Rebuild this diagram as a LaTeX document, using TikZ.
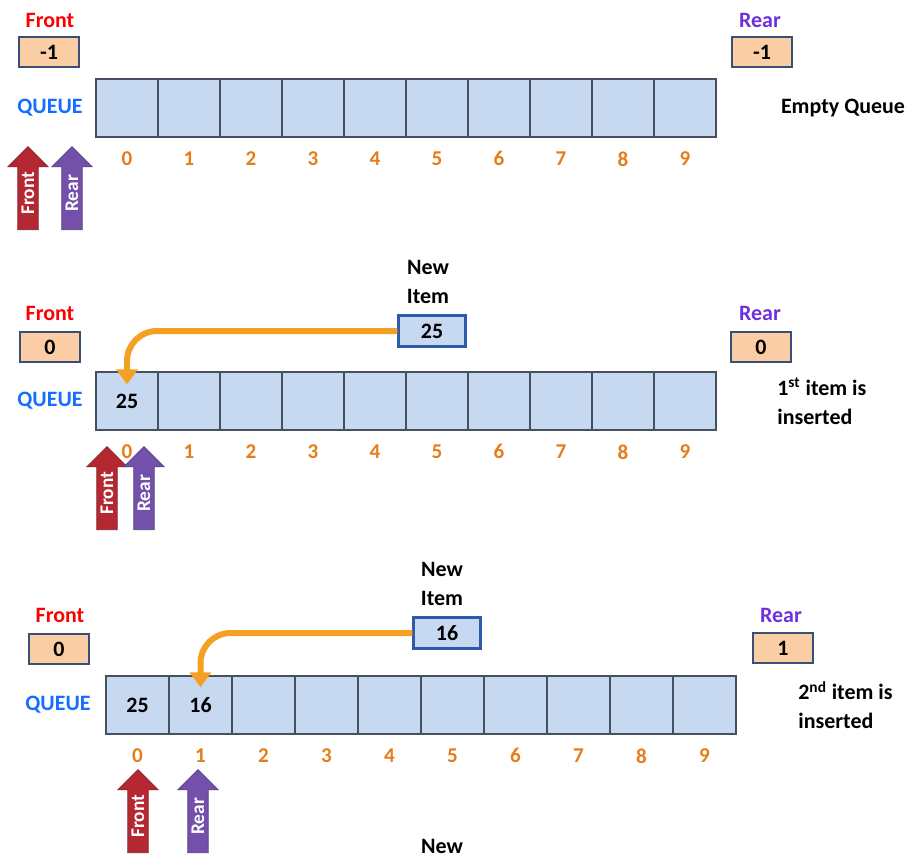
\documentclass[tikz,border=0pt]{standalone}
\usepackage{fontspec}
\setmainfont{Carlito}
\usetikzlibrary{shapes.arrows,arrows.meta}

\definecolor{cellblue}{RGB}{198,217,241}
\definecolor{cellline}{RGB}{70,80,95}
\definecolor{peach}{RGB}{250,205,165}
\definecolor{boxline}{RGB}{56,80,120}
\definecolor{newline}{RGB}{45,90,170}
\definecolor{frontred}{RGB}{255,0,0}
\definecolor{rearpurple}{RGB}{112,48,220}
\definecolor{queueblue}{RGB}{20,110,255}
\definecolor{idxorange}{RGB}{230,125,25}
\definecolor{insertorange}{RGB}{243,160,35}
\definecolor{arrowred}{RGB}{180,40,50}
\definecolor{arrowpurple}{RGB}{115,80,170}

\tikzset{
  txt/.style={inner sep=0pt, font=\fontsize{12.5}{16.5}\selectfont\bfseries},
  cell/.style={txt, draw=cellline, fill=cellblue, line width=0.8pt,
    minimum width=1.24cm, minimum height=1.16cm},
  cellw/.style={cell, minimum width=1.26cm},
  idx/.style={text=idxorange, inner sep=0pt, label distance=0.27cm,
    font=\fontsize{12}{13}\selectfont\bfseries},
  valbox/.style={txt, draw=boxline, fill=peach, line width=1pt,
    minimum width=1.2cm, minimum height=0.6cm},
  newbox/.style={txt, draw=newline, fill=cellblue, line width=1.2pt,
    minimum width=1.34cm, minimum height=0.62cm},
  ptr/.style={single arrow, single arrow head extend=0.2cm,
    single arrow head indent=0pt, minimum height=1.66cm,
    inner ysep=2pt, inner xsep=2pt, rotate=90, anchor=tail,
    text=white, font=\fontsize{11}{12}\selectfont\bfseries},
  frontptr/.style={ptr, fill=arrowred, draw=arrowred!75!black},
  rearptr/.style={ptr, fill=arrowpurple, draw=arrowpurple!75!black},
  insert/.style={draw=insertorange, line width=0.12cm, rounded corners=0.6cm,
    -{Triangle[width=0.42cm, length=0.3cm]}}
}

\begin{document}
\begin{tikzpicture}[x=0.02cm, y=-0.02cm]
\clip (0,0) rectangle (912,856);
\fill[white] (0,0) rectangle (912,856);

% empty queue
\node[txt, text=frontred] (front1) at (50,20) {Front};
\node[valbox] (fval1) at (49,52) {-1};
\node[txt, text=rearpurple] (rear1) at (760,20) {Rear};
\node[valbox] (rval1) at (762,52) {-1};
\node[txt, text=queueblue] (queue1) at (50,108) {QUEUE};
\node[frontptr] (fptr1) at (28,230) {Front};
\node[rearptr] (rptr1) at (72,230) {Rear};

\node[cell, label={[idx]below:0}] (q1c0) at (127,108) {};
\node[cell, label={[idx]below:1}] (q1c1) at (189,108) {};
\node[cell, label={[idx]below:2}] (q1c2) at (251,108) {};
\node[cell, label={[idx]below:3}] (q1c3) at (313,108) {};
\node[cell, label={[idx]below:4}] (q1c4) at (375,108) {};
\node[cell, label={[idx]below:5}] (q1c5) at (437,108) {};
\node[cell, label={[idx]below:6}] (q1c6) at (499,108) {};
\node[cell, label={[idx]below:7}] (q1c7) at (561,108) {};
\node[cell, label={[idx]below:8}] (q1c8) at (623,108) {};
\node[cell, label={[idx]below:9}] (q1c9) at (685,108) {};

\node[txt] (state1) at (843,108) {Empty Queue};

% first insert
\node[txt, align=center] (new2) at (428,282) {New\\Item};
\node[newbox] (item2) at (432,331) {25};
\node[txt, text=frontred] (front2) at (50,313) {Front};
\node[valbox] (fval2) at (50,347) {0};
\node[txt, text=rearpurple] (rear2) at (760,313) {Rear};
\node[valbox] (rval2) at (761,347) {0};
\node[txt, text=queueblue] (queue2) at (50,401) {QUEUE};
\node[frontptr] (fptr2) at (107,530) {Front};
\node[rearptr] (rptr2) at (144,530) {Rear};

\node[cell, label={[idx]below:0}] (q2c0) at (127,401) {25};
\node[cell, label={[idx]below:1}] (q2c1) at (189,401) {};
\node[cell, label={[idx]below:2}] (q2c2) at (251,401) {};
\node[cell, label={[idx]below:3}] (q2c3) at (313,401) {};
\node[cell, label={[idx]below:4}] (q2c4) at (375,401) {};
\node[cell, label={[idx]below:5}] (q2c5) at (437,401) {};
\node[cell, label={[idx]below:6}] (q2c6) at (499,401) {};
\node[cell, label={[idx]below:7}] (q2c7) at (561,401) {};
\node[cell, label={[idx]below:8}] (q2c8) at (623,401) {};
\node[cell, label={[idx]below:9}] (q2c9) at (685,401) {};

\draw[insert] (item2.west) -| ([yshift=-0.26cm]q2c0.north);
\node[txt, align=left, anchor=west] (state2) at (777,401) {1\textsuperscript{st} item is\\inserted};

% second insert
\node[txt, align=center] (new3) at (442,584) {New\\Item};
\node[newbox] (item3) at (447,633) {16};
\node[txt, text=frontred] (front3) at (60,615) {Front};
\node[valbox] (fval3) at (59,649) {0};
\node[txt, text=rearpurple] (rear3) at (781,615) {Rear};
\node[valbox] (rval3) at (783,648) {1};
\node[txt, text=queueblue] (queue3) at (58,705) {QUEUE};
\node[frontptr] (fptr3) at (138,853) {Front};
\node[rearptr] (rptr3) at (198,853) {Rear};

\node[cellw, label={[idx]below:0}] (q3c0) at (137.5,705) {25};
\node[cellw, label={[idx]below:1}] (q3c1) at (200.5,705) {16};
\node[cellw, label={[idx]below:2}] (q3c2) at (263.5,705) {};
\node[cellw, label={[idx]below:3}] (q3c3) at (326.5,705) {};
\node[cellw, label={[idx]below:4}] (q3c4) at (389.5,705) {};
\node[cellw, label={[idx]below:5}] (q3c5) at (452.5,705) {};
\node[cellw, label={[idx]below:6}] (q3c6) at (515.5,705) {};
\node[cellw, label={[idx]below:7}] (q3c7) at (578.5,705) {};
\node[cellw, label={[idx]below:8}] (q3c8) at (641.5,705) {};
\node[cellw, label={[idx]below:9}] (q3c9) at (704.5,705) {};

\draw[insert] (item3.west) -| ([yshift=-0.24cm]q3c1.north);
\node[txt, align=left, anchor=west] (state3) at (798,705) {2\textsuperscript{nd} item is\\inserted};

% next step
\node[txt] (new4) at (442,846) {New};

\end{tikzpicture}
\end{document}
